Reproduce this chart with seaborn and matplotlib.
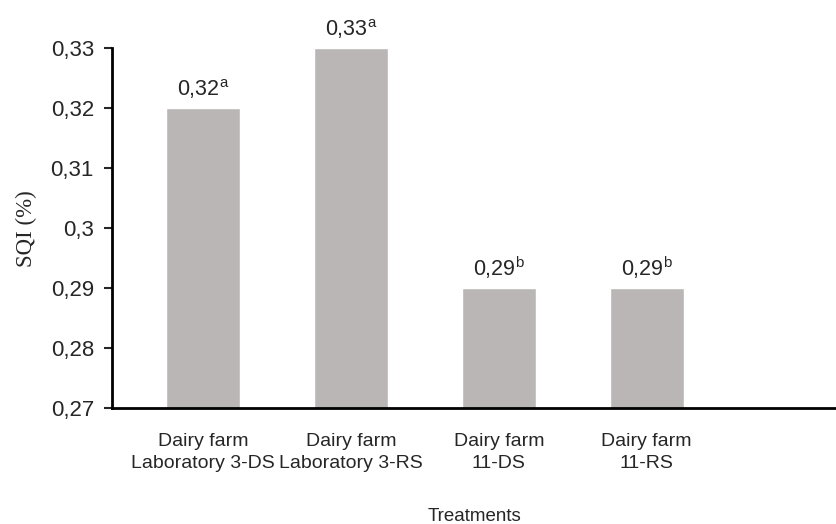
import matplotlib
matplotlib.use("Agg")
import matplotlib.pyplot as plt
import pandas as pd
import seaborn as sns

# data
treatments = ["Dairy farm\nLaboratory 3-DS", "Dairy farm\nLaboratory 3-RS",
              "Dairy farm\n11-DS", "Dairy farm\n11-RS"]
sqi = [0.32, 0.33, 0.29, 0.29]
letters = ["a", "a", "b", "b"]
yticks = [0.27, 0.28, 0.29, 0.30, 0.31, 0.32, 0.33]
ytick_labels = ["0,27", "0,28", "0,29", "0,3", "0,31", "0,32", "0,33"]

df = pd.DataFrame({"Treatment": treatments, "SQI": sqi})

sns.set_style("ticks")
plt.rcParams["font.family"] = ["Liberation Sans", "DejaVu Sans"]
plt.rcParams["mathtext.fontset"] = "custom"
plt.rcParams["mathtext.rm"] = "Liberation Sans"

fig = plt.figure(figsize=(8.36, 5.24), dpi=100)
ax = fig.add_axes([0.134, 0.221, 0.866, 0.687])

sns.barplot(data=df, x="Treatment", y="SQI", color="#bab6b6", width=0.5,
            saturation=1, ax=ax)

for i, (v, l) in enumerate(zip(sqi, letters)):
    lab = ("%.2f" % v).replace(".", ",") + r"$^{\mathrm{%s}}$" % l
    ax.annotate(lab, (i, v), xytext=(0, 5), textcoords="offset points",
                ha="center", va="bottom", fontsize=15.5)

ax.set_ylim(0.27, 0.33)
ax.set_xlim(-0.615, 4.28)
ax.set_yticks(yticks)
ax.set_yticklabels(ytick_labels, fontsize=16)
ax.tick_params(axis="x", length=0, labelsize=14, pad=18)
for t in ax.get_xticklabels():
    t.set_linespacing(1.35)
ax.tick_params(axis="y", length=6, width=1.5, pad=7)
ax.set_ylabel("SQI (%)", fontsize=16.5, family="Liberation Serif", labelpad=10)
ax.set_xlabel("Treatments", fontsize=13.5, labelpad=26)

sns.despine(ax=ax)
for s in ["left", "bottom"]:
    ax.spines[s].set_linewidth(2)
    ax.spines[s].set_color("black")

fig.savefig("out.png", dpi=100)
